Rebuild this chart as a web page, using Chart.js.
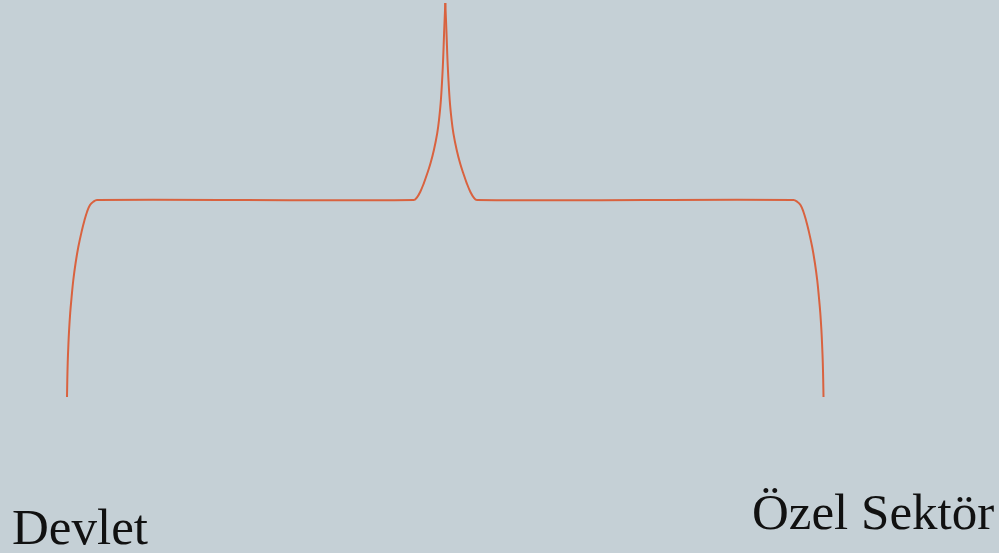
<!DOCTYPE html>
<html>
<head>
<meta charset="utf-8">
<script src="https://cdn.jsdelivr.net/npm/chart.js@4.4.0/dist/chart.umd.min.js"></script>
<style>
  html, body { margin: 0; padding: 0; background: #c5d0d6; }
  #wrap { width: 999px; height: 553px; position: relative; }
</style>
</head>
<body>
<div id="wrap"><canvas id="chart"></canvas></div>
<script>
// diagram space = picture space (x right, y down)
const leafLabels = ['Devlet', 'Özel Sektör'];

// left branch: Devlet leaf -> root
const leftX = [67, 67.3, 67.7, 68.3, 69.1, 70.2, 71.6, 73.3, 75.6, 78.3, 82, 84.3, 87, 90, 93.3, 97,
               413.6, 417, 420.3, 423.8, 427.3, 430.5, 433.9, 437.2, 439, 440.9, 442.8, 444.1, 445.3];
const leftY = [397, 380, 363, 347, 330, 313, 297, 280, 263, 247, 230, 221, 212, 205, 201.7, 200,
               200, 197.3, 191.7, 183.3, 173.3, 163.3, 150, 133.3, 120, 100, 67, 33, 3];

// right branch: root -> Özel Sektör leaf
const rightX = [445.3, 446.5, 447.8, 449.7, 451.6, 453.4, 456.7, 460.1, 463.3, 466.8, 470.3, 473.6, 477,
                793.5, 797.2, 800.5, 803.5, 806.2, 808.5, 812.2, 814.9, 817.2, 818.9, 820.3, 821.4, 822.2, 822.8, 823.2, 823.5];
const rightY = [3, 33, 67, 100, 120, 133.3, 150, 163.3, 173.3, 183.3, 191.7, 197.3, 200,
                200, 201.7, 205, 212, 221, 230, 247, 263, 280, 297, 313, 330, 347, 363, 380, 397];

const toPoints = (xs, ys) => xs.map((x, i) => ({ x: x, y: ys[i] }));

const lineColor = '#d9623f';

// leaf label placement (left edge, baseline)
const labelPos = [
  { x: 12, y: 544 },
  { x: 752, y: 529 }
];

const labelPlugin = {
  id: 'leafLabels',
  afterDatasetsDraw(chart) {
    const ctx = chart.ctx;
    const xs = chart.scales.x, ys = chart.scales.y;
    ctx.save();
    ctx.fillStyle = '#111111';
    ctx.font = '51px "Liberation Serif", "DejaVu Serif", serif';
    ctx.textAlign = 'left';
    ctx.textBaseline = 'alphabetic';
    leafLabels.forEach((t, i) => {
      ctx.fillText(t, xs.getPixelForValue(labelPos[i].x), ys.getPixelForValue(labelPos[i].y));
    });
    ctx.restore();
  }
};

new Chart(document.getElementById('chart'), {
  type: 'line',
  data: {
    datasets: [
      { label: leafLabels[0], data: toPoints(leftX, leftY) },
      { label: leafLabels[1], data: toPoints(rightX, rightY) }
    ]
  },
  options: {
    responsive: true,
    maintainAspectRatio: false,
    animation: false,
    layout: { padding: 0 },
    elements: {
      line: { borderColor: lineColor, borderWidth: 2, tension: 0.4, capBezierPoints: false, fill: false },
      point: { radius: 0, hoverRadius: 0 }
    },
    scales: {
      x: { type: 'linear', min: 0, max: 999, display: false },
      y: { type: 'linear', min: 0, max: 553, reverse: true, display: false }
    },
    plugins: {
      legend: { display: false },
      tooltip: { enabled: false }
    }
  },
  plugins: [labelPlugin]
});
</script>
</body>
</html>
